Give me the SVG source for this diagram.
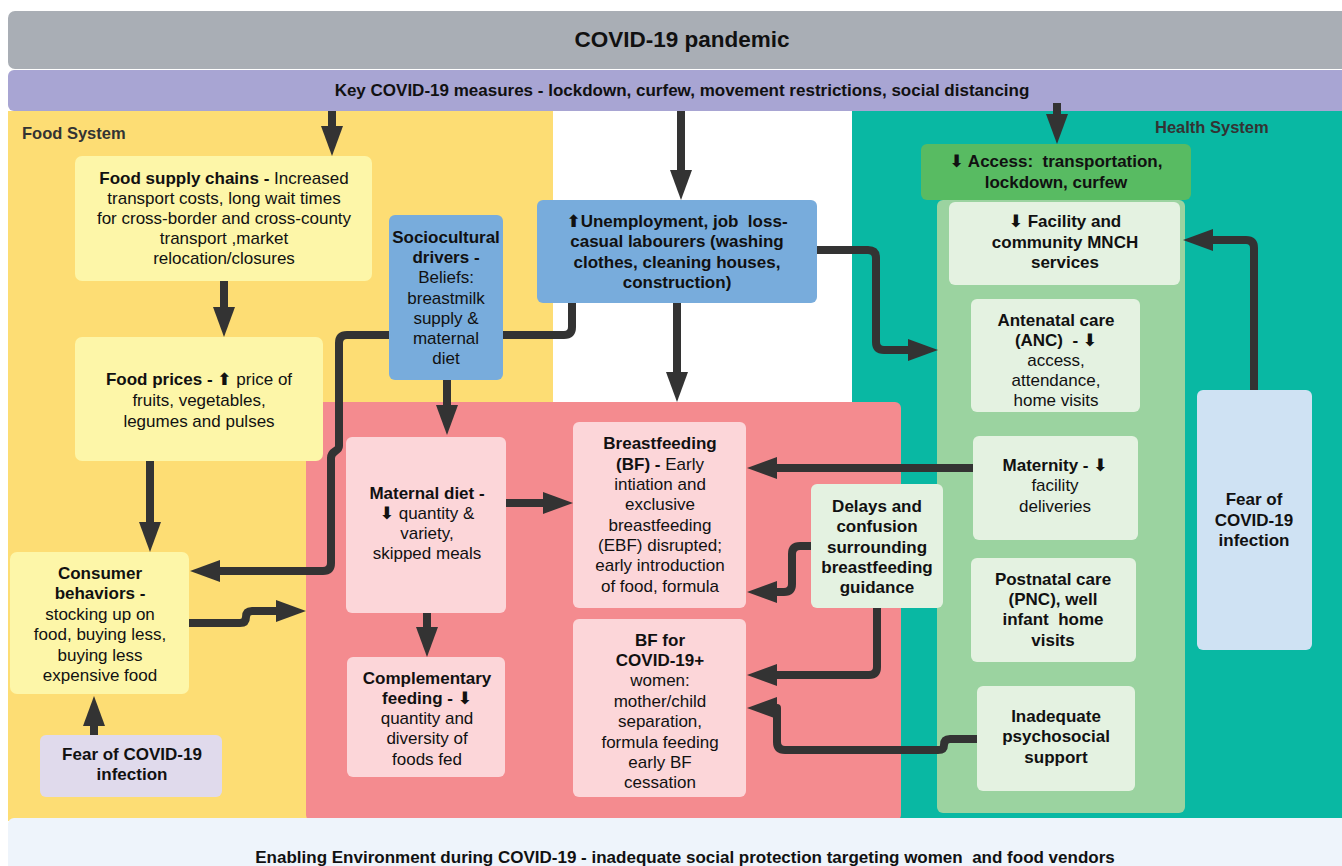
<svg xmlns="http://www.w3.org/2000/svg" width="1342" height="866" viewBox="0 0 1342 866">
<defs>
<style>
text{font-family:"Liberation Sans",Arial,sans-serif;font-size:17px;fill:#111;text-anchor:middle}
.b{font-weight:bold}
.ar{font-family:"DejaVu Sans",sans-serif;font-weight:bold}
.lbl{font-size:16.5px;font-weight:bold;fill:#333;text-anchor:start}
.con{fill:none;stroke:#333;stroke-width:8;stroke-linejoin:round;marker-end:url(#ah)}
.yl{fill:#fdf6a8}
.bl{fill:#78acdc}
.pk{fill:#fcd6d9}
.gn{fill:#e4f2e1}
</style>
<marker id="ah" viewBox="0 0 30 22" refX="2" refY="11" markerWidth="30" markerHeight="22" markerUnits="userSpaceOnUse" orient="auto">
<path d="M0,0 L30,11 L0,22 Z" fill="#333"/>
</marker>
</defs>
<rect width="1342" height="866" fill="#ffffff"/>
<g id="regions">
<rect x="8" y="111" width="545" height="710" fill="#fddd74"/>
<rect x="553" y="111" width="299" height="710" fill="#ffffff"/>
<rect x="852" y="111" width="490" height="710" fill="#09b8a3"/>
<rect x="306" y="402" width="595" height="419" rx="6" fill="#f48b8f"/>
<rect x="937" y="200" width="248" height="613" rx="6" fill="#9bd3a0"/>
<text class="lbl" x="22" y="139">Food System</text>
<text class="lbl" x="1155" y="133">Health System</text>
</g>
<g id="pandemic">
<rect x="8" y="11" width="1340" height="58" rx="7" fill="#a9aeb5"/>
<text class="b" x="682" y="47" style="font-size:22.5px">COVID-19 pandemic</text>
</g>
<g id="measures">
<rect x="8" y="70" width="1340" height="41" rx="6" fill="#a8a5d3"/>
<text class="b" x="682" y="96">Key COVID-19 measures - lockdown, curfew, movement restrictions, social distancing</text>
</g>
<g id="enabling">
<rect x="8" y="818" width="1340" height="60" rx="6" fill="#eef4fb"/>
<text class="b" x="685" y="863" xml:space="preserve">Enabling Environment during COVID-19 - inadequate social protection targeting women  and food vendors</text>
</g>
<g id="connectors">
<path class="con" d="M332,111 V128"/>
<path class="con" d="M681,111 V172"/>
<path class="con" d="M1057,103 V116"/>
<path class="con" d="M224,281 V309"/>
<path class="con" d="M150,461 V524"/>
<path class="con" d="M572,303 V327 Q572,335 564,335 H347 Q339,335 339,343 V446 C339,452 331,450 331,458 V563 Q331,571 323,571 H218"/>
<path class="con" d="M189,623 H240 Q246,623 246,617 Q246,611 252,611 H278"/>
<path class="con" d="M447,380 V407"/>
<path class="con" d="M677,303 V374"/>
<path class="con" d="M817,250 H868 Q876,250 876,258 V342 Q876,350 884,350 H910"/>
<path class="con" d="M506,503 H545"/>
<path class="con" d="M427,613 V629"/>
<path class="con" d="M973,468 H775"/>
<path class="con" d="M811,546 H800 Q792,546 792,554 V584 Q792,592 784,592 H775"/>
<path class="con" d="M877,608 V667 Q877,675 869,675 H775"/>
<path class="con" d="M977,739 H950 Q944,739 944,745 Q944,750 938,750 H785 Q777,750 777,742 V708 L775,708"/>
<path class="con" d="M1254,390 V248 Q1254,240 1246,240 H1211"/>
<path class="con" d="M94,735 V724"/>
</g>
<g id="food-supply">
<rect class="yl" x="75" y="156" width="297" height="125" rx="7"/>
<text x="224" y="184"><tspan class="b">Food supply chains - </tspan>Increased</text>
<text x="224" y="204">transport costs, long wait times</text>
<text x="224" y="224">for cross-border and cross-county</text>
<text x="224" y="244">transport ,market</text>
<text x="224" y="264">relocation/closures</text>
</g>
<g id="food-prices">
<rect class="yl" x="75" y="337" width="248" height="124" rx="7"/>
<text x="199" y="385"><tspan class="b">Food prices - </tspan><tspan class="ar">⬆</tspan> price of</text>
<text x="199" y="406">fruits, vegetables,</text>
<text x="199" y="427">legumes and pulses</text>
</g>
<g id="consumer">
<rect class="yl" x="10" y="552" width="179" height="142" rx="7"/>
<text class="b" x="100" y="579">Consumer</text>
<text class="b" x="100" y="599">behaviors -</text>
<text x="100" y="620">stocking up on</text>
<text x="100" y="640">food, buying less,</text>
<text x="100" y="661">buying less</text>
<text x="100" y="681">expensive food</text>
</g>
<g id="fear-food">
<rect x="40" y="735" width="182" height="62" rx="6" fill="#e0daec"/>
<text class="b" x="132" y="760">Fear of COVID-19</text>
<text class="b" x="132" y="780">infection</text>
</g>
<g id="sociocultural">
<rect class="bl" x="389" y="215" width="114" height="165" rx="6"/>
<text class="b" x="446" y="243">Sociocultural</text>
<text class="b" x="446" y="263">drivers -</text>
<text x="446" y="283">Beliefs:</text>
<text x="446" y="304">breastmilk</text>
<text x="446" y="324">supply &amp;</text>
<text x="446" y="344">maternal</text>
<text x="446" y="364">diet</text>
</g>
<g id="unemployment">
<rect class="bl" x="537" y="200" width="280" height="103" rx="6"/>
<text class="b" x="677" y="227" xml:space="preserve"><tspan class="ar">⬆</tspan>Unemployment, job  loss-</text>
<text class="b" x="677" y="247">casual labourers (washing</text>
<text class="b" x="677" y="268">clothes, cleaning houses,</text>
<text class="b" x="677" y="288">construction)</text>
</g>
<g id="maternal-diet">
<rect class="pk" x="346" y="437" width="160" height="176" rx="6"/>
<text class="b" x="427" y="499">Maternal diet -</text>
<text x="427" y="519"><tspan class="ar">⬇</tspan> quantity &amp;</text>
<text x="427" y="539">variety,</text>
<text x="427" y="559">skipped meals</text>
</g>
<g id="complementary">
<rect class="pk" x="347" y="657" width="158" height="120" rx="6"/>
<text class="b" x="427" y="684">Complementary</text>
<text class="b" x="427" y="704">feeding - <tspan class="ar">⬇</tspan></text>
<text x="427" y="724">quantity and</text>
<text x="427" y="744">diversity of</text>
<text x="427" y="765">foods fed</text>
</g>
<g id="breastfeeding">
<rect class="pk" x="573" y="422" width="173" height="186" rx="6"/>
<text class="b" x="660" y="449">Breastfeeding</text>
<text x="660" y="470"><tspan class="b">(BF) - </tspan>Early</text>
<text x="660" y="490">intiation and</text>
<text x="660" y="510">exclusive</text>
<text x="660" y="531">breastfeeding</text>
<text x="660" y="551">(EBF) disrupted;</text>
<text x="660" y="571">early introduction</text>
<text x="660" y="592">of food, formula</text>
</g>
<g id="bf-covid">
<rect class="pk" x="573" y="619" width="173" height="178" rx="6"/>
<text class="b" x="660" y="646">BF for</text>
<text class="b" x="660" y="666">COVID-19+</text>
<text x="660" y="686">women:</text>
<text x="660" y="707">mother/child</text>
<text x="660" y="727">separation,</text>
<text x="660" y="748">formula feeding</text>
<text x="660" y="768">early BF</text>
<text x="660" y="788">cessation</text>
</g>
<g id="delays">
<rect class="gn" x="811" y="484" width="132" height="124" rx="6"/>
<text class="b" x="877" y="512">Delays and</text>
<text class="b" x="877" y="532">confusion</text>
<text class="b" x="877" y="553">surrounding</text>
<text class="b" x="877" y="573">breastfeeding</text>
<text class="b" x="877" y="593">guidance</text>
</g>
<g id="access">
<rect x="921" y="144" width="270" height="56" rx="6" fill="#58bb62"/>
<text class="b" x="1056" y="167" xml:space="preserve"><tspan class="ar">⬇</tspan> Access:  transportation,</text>
<text class="b" x="1056" y="188">lockdown, curfew</text>
</g>
<g id="facility">
<rect class="gn" x="949" y="202" width="231" height="83" rx="6"/>
<text class="b" x="1065" y="227"><tspan class="ar">⬇</tspan> Facility and</text>
<text class="b" x="1065" y="248">community MNCH</text>
<text class="b" x="1065" y="268">services</text>
</g>
<g id="anc">
<rect class="gn" x="971" y="299" width="169" height="113" rx="6"/>
<text class="b" x="1056" y="326">Antenatal care</text>
<text class="b" x="1056" y="346" xml:space="preserve">(ANC)  - <tspan class="ar">⬇</tspan></text>
<text x="1056" y="366">access,</text>
<text x="1056" y="386">attendance,</text>
<text x="1056" y="406">home visits</text>
</g>
<g id="maternity">
<rect class="gn" x="973" y="436" width="165" height="104" rx="6"/>
<text class="b" x="1055" y="471">Maternity - <tspan class="ar">⬇</tspan></text>
<text x="1055" y="491">facility</text>
<text x="1055" y="512">deliveries</text>
</g>
<g id="postnatal">
<rect class="gn" x="971" y="558" width="165" height="104" rx="6"/>
<text class="b" x="1053" y="585">Postnatal care</text>
<text class="b" x="1053" y="605">(PNC), well</text>
<text class="b" x="1053" y="625" xml:space="preserve">infant  home</text>
<text class="b" x="1053" y="646">visits</text>
</g>
<g id="psychosocial">
<rect class="gn" x="977" y="686" width="158" height="105" rx="6"/>
<text class="b" x="1056" y="722">Inadequate</text>
<text class="b" x="1056" y="742">psychosocial</text>
<text class="b" x="1056" y="763">support</text>
</g>
<g id="fear-health">
<rect x="1197" y="390" width="115" height="260" rx="6" fill="#cfe2f3"/>
<text class="b" x="1254" y="505">Fear of</text>
<text class="b" x="1254" y="526">COVID-19</text>
<text class="b" x="1254" y="546">infection</text>
</g>
</svg>
